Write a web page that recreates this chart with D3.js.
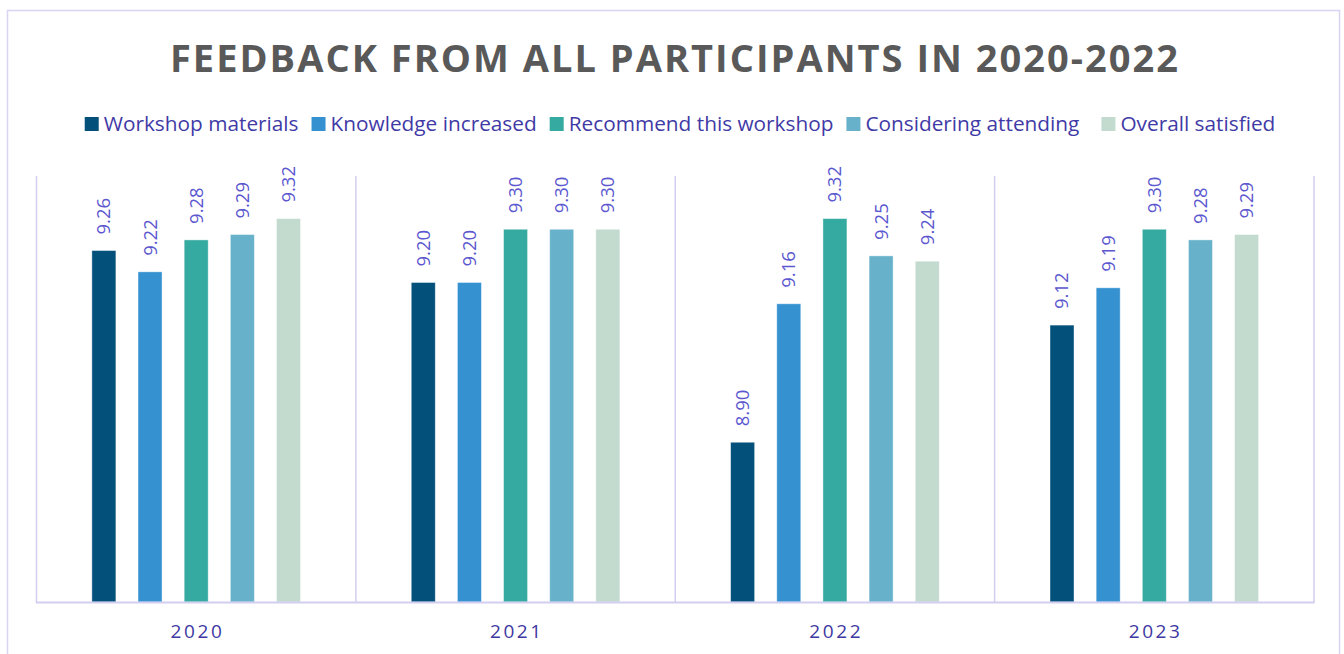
<!DOCTYPE html>
<html>
<head>
<meta charset="utf-8">
<script src="https://cdn.jsdelivr.net/npm/d3@7"></script>
<style>
  html, body { margin: 0; padding: 0; background: #fff; }
  svg { display: block; }
</style>
</head>
<body>
<svg id="chart" width="1344" height="654"></svg>
<script>
const title = "FEEDBACK FROM ALL PARTICIPANTS IN 2020-2022";
const years = ["2020", "2021", "2022", "2023"];
const seriesNames = ["Workshop materials", "Knowledge increased", "Recommend this workshop", "Considering attending", "Overall satisfied"];
const seriesColors = ["#03507A", "#3591D0", "#35AAA1", "#67B2CA", "#C3DBCE"];
const workshopMaterials = [9.26, 9.20, 8.90, 9.12];
const knowledgeIncreased = [9.22, 9.20, 9.16, 9.19];
const recommendWorkshop = [9.28, 9.30, 9.32, 9.30];
const consideringAttending = [9.29, 9.30, 9.25, 9.28];
const overallSatisfied = [9.32, 9.30, 9.24, 9.29];
const yDomain = [8.6, 9.4];

const seriesValues = [workshopMaterials, knowledgeIncreased, recommendWorkshop, consideringAttending, overallSatisfied];

const svg = d3.select("#chart");
const font = "'Open Sans', sans-serif";

// outer frame
svg.append("rect")
  .attr("x", 7.5).attr("y", 10.5).attr("width", 1332).attr("height", 680)
  .attr("fill", "#fff").attr("stroke", "#D8D4F2").attr("stroke-width", 1.5);

// title with letter spacing fitted to width
const titleLeft = 170, titleRight = 1178;
const tEl = svg.append("text")
  .attr("x", titleLeft).attr("y", 72)
  .attr("font-family", font).attr("font-weight", 700).attr("font-size", 38)
  .attr("fill", "#595959")
  .text(title);
{
  const n = title.length;
  const w0 = tEl.node().getComputedTextLength();
  const ls = ((titleRight - titleLeft) - w0) / (n - 1);
  tEl.attr("letter-spacing", ls);
}

// plot area
const plot = { left: 36.5, right: 1314, top: 176, bottom: 602 };
const x0 = d3.scaleBand().domain(years).range([plot.left, plot.right]).paddingInner(0).paddingOuter(0);
const x1 = d3.scaleBand().domain(d3.range(seriesNames.length))
  .range([0, x0.bandwidth()]).paddingInner(0.48).paddingOuter(1.2);
const y = d3.scaleLinear().domain(yDomain).range([plot.bottom, plot.top]);

const axisColor = "#D2CEF0";
// vertical group separators (category axis ticks)
const seps = years.map(d => x0(d)).concat([plot.right]);
svg.append("g").selectAll("line").data(seps).join("line")
  .attr("x1", d => d).attr("x2", d => d)
  .attr("y1", plot.top).attr("y2", plot.bottom)
  .attr("stroke", axisColor).attr("stroke-width", 1.5);

// bars
const groups = svg.append("g").selectAll("g").data(years).join("g")
  .attr("transform", d => `translate(${x0(d)},0)`);

groups.each(function(yr, yi) {
  const g = d3.select(this);
  seriesValues.forEach((vals, si) => {
    const v = vals[yi];
    const bx = x1(si);
    g.append("rect")
      .attr("x", bx).attr("width", x1.bandwidth())
      .attr("y", y(v)).attr("height", y(yDomain[0]) - y(v))
      .attr("fill", seriesColors[si])
      .attr("stroke", "rgba(255,255,255,0.5)").attr("stroke-width", 0.8);
    const cx = bx + x1.bandwidth() / 2;
    const ty = y(v) - 16;
    g.append("text")
      .attr("transform", `translate(${cx},${ty}) rotate(-90)`)
      .attr("dy", "0.35em")
      .attr("font-family", font).attr("font-size", 18.5)
      .attr("fill", "#5B57CF")
      .attr("text-anchor", "start")
      .text(v.toFixed(2));
  });
});

// bottom axis line
svg.append("line")
  .attr("x1", plot.left - 0.75).attr("x2", plot.right + 0.75)
  .attr("y1", plot.bottom + 0.5).attr("y2", plot.bottom + 0.5)
  .attr("stroke", axisColor).attr("stroke-width", 2);

// category labels
const ls2 = 2.6;
svg.append("g").selectAll("text").data(years).join("text")
  .attr("x", d => x0(d) + x0.bandwidth() / 2 + ls2 / 2)
  .attr("y", 638)
  .attr("text-anchor", "middle")
  .attr("font-family", font).attr("font-size", 19)
  .attr("letter-spacing", ls2)
  .attr("fill", "#3D38A2")
  .text(d => d);

// legend
const legend = svg.append("g");
const legFont = 20.8, sq = 14, gapSqText = 5, gapItems = 13;
let cursor = 0;
const items = seriesNames.map((name, i) => {
  const it = legend.append("g");
  it.append("rect").attr("x", 0).attr("y", -sq / 2).attr("width", sq).attr("height", sq)
    .attr("fill", seriesColors[i]);
  const t = it.append("text").attr("x", sq + gapSqText).attr("y", 0).attr("dy", "0.35em")
    .attr("font-family", font).attr("font-size", legFont).attr("fill", "#3F3AA6").text(name);
  const w = sq + gapSqText + t.node().getComputedTextLength();
  it.attr("transform", `translate(${cursor},0)`);
  const r = { it, x: cursor, w };
  cursor += w + gapItems + (i === 3 ? 9 : 0);
  return r;
});
const total = cursor - gapItems;
const legLeft = 86;
legend.attr("transform", `translate(${legLeft + ((1274 - 86) - total) / 2},124)`);
</script>
</body>
</html>
